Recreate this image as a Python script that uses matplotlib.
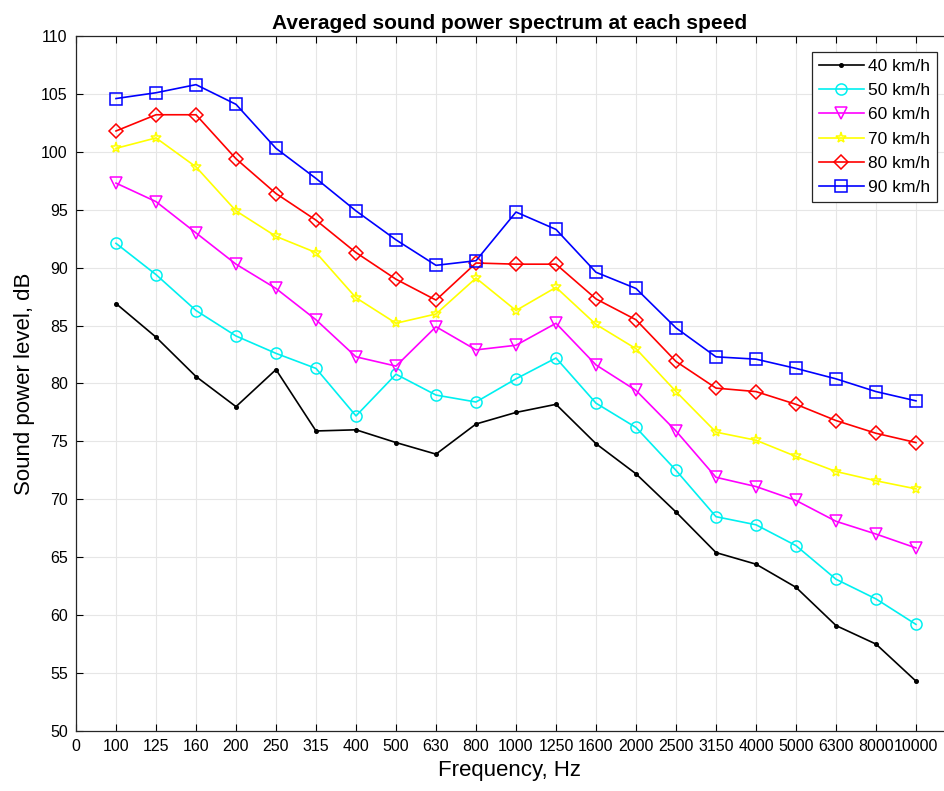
import matplotlib.pyplot as plt
import numpy as np

plt.rcParams['font.family'] = ['Liberation Sans', 'DejaVu Sans']

freq_labels = ['0', '100', '125', '160', '200', '250', '315', '400', '500', '630',
               '800', '1000', '1250', '1600', '2000', '2500', '3150', '4000',
               '5000', '6300', '8000', '10000']

speed_40 = [86.9, 84.0, 80.6, 78.0, 81.2, 75.9, 76.0, 74.9, 73.9, 76.5, 77.5,
            78.2, 74.8, 72.2, 68.9, 65.4, 64.4, 62.4, 59.1, 57.5, 54.3]
speed_50 = [92.1, 89.4, 86.3, 84.1, 82.6, 81.3, 77.2, 80.8, 79.0, 78.4, 80.4,
            82.2, 78.3, 76.2, 72.5, 68.5, 67.8, 66.0, 63.1, 61.4, 59.2]
speed_60 = [97.3, 95.7, 93.0, 90.3, 88.2, 85.5, 82.3, 81.5, 84.9, 82.9, 83.3,
            85.2, 81.6, 79.4, 75.9, 71.9, 71.1, 69.9, 68.1, 67.0, 65.8]
speed_70 = [100.3, 101.2, 98.7, 94.9, 92.7, 91.3, 87.4, 85.2, 86.0, 89.1, 86.3,
            88.3, 85.1, 83.0, 79.3, 75.8, 75.1, 73.7, 72.4, 71.6, 70.9]
speed_80 = [101.8, 103.2, 103.2, 99.4, 96.4, 94.1, 91.3, 89.0, 87.2, 90.4, 90.3,
            90.3, 87.3, 85.5, 81.9, 79.6, 79.3, 78.2, 76.8, 75.7, 74.9]
speed_90 = [104.6, 105.1, 105.8, 104.1, 100.3, 97.7, 94.9, 92.4, 90.2, 90.6, 94.8,
            93.3, 89.6, 88.2, 84.8, 82.3, 82.1, 81.3, 80.4, 79.3, 78.5]

series = [
    ('40 km/h', speed_40, '#000000', '.'),
    ('50 km/h', speed_50, '#00f0f0', 'o'),
    ('60 km/h', speed_60, '#ff00ff', 'v'),
    ('70 km/h', speed_70, '#ffff00', '*'),
    ('80 km/h', speed_80, '#ff0000', 'D'),
    ('90 km/h', speed_90, '#0000ff', 's'),
]

fig = plt.figure(figsize=(9.44, 7.91), dpi=100)
ax = fig.add_axes([0.0805, 0.0759, 0.9195, 0.8786])

x = np.arange(1, len(speed_40) + 1)
for name, vals, col, mk in series:
    ms = 5 if mk == '.' else 8
    if mk == 'D':
        ms = 7
    ax.plot(x, vals, color=col, marker=mk, markersize=ms, markerfacecolor='none'
            if mk != '.' else col, markeredgewidth=1.1, linewidth=1.2, label=name)

ax.set_xlim(0, 21.7)
ax.set_ylim(50, 110)
ax.set_xticks(np.arange(len(freq_labels)))
ax.set_xticklabels(freq_labels)
ax.set_yticks(np.arange(50, 111, 5))
ax.tick_params(axis='both', direction='in', top=True, right=False, labelsize=11.5,
               length=5, width=0.8, pad=6)
ax.grid(True, color='#e6e6e6', linewidth=0.8)
ax.set_axisbelow(True)
ax.spines['right'].set_visible(False)
for s in ['left', 'bottom', 'top']:
    ax.spines[s].set_linewidth(0.9)
    ax.spines[s].set_color('#262626')

ax.set_xlabel('Frequency, Hz', fontsize=16, labelpad=4)
ax.set_ylabel('Sound power level, dB', fontsize=16, labelpad=4)
ax.set_title('Averaged sound power spectrum at each speed', fontsize=15,
             fontweight='bold', pad=5)

leg = ax.legend(loc='upper right', bbox_to_anchor=(0.992, 0.977), borderaxespad=0,
                fontsize=12.5, fancybox=False, edgecolor='#262626', framealpha=1,
                handlelength=2.6, labelspacing=0.52, borderpad=0.4, handletextpad=0.25)
leg.get_frame().set_linewidth(0.9)

fig.savefig('out.png', dpi=100)
